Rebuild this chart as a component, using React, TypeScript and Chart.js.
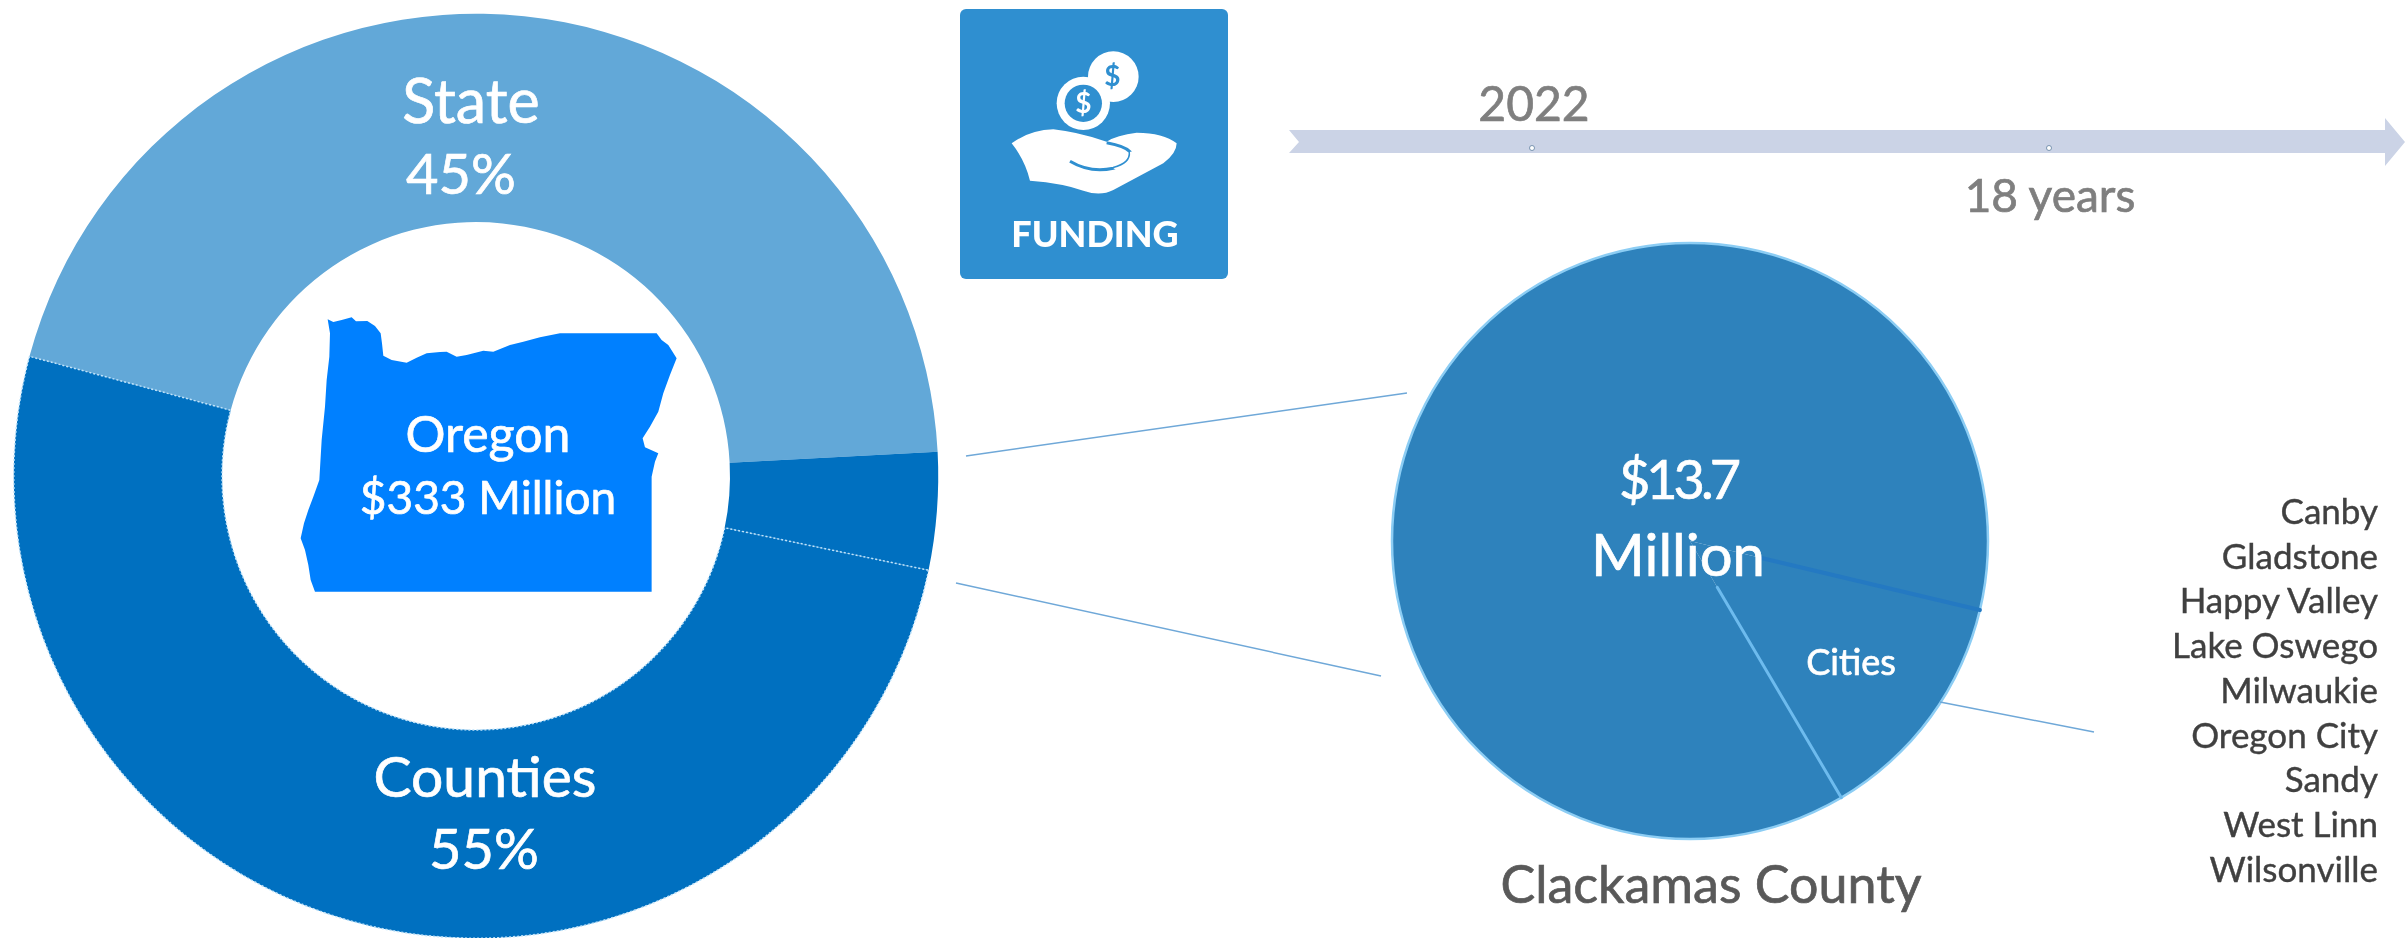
import React, { useEffect, useRef } from "react";
import { Chart, registerables } from "chart.js";

Chart.register(...registerables);

const oregonLabels = ["State", "Clackamas County", "Other Counties"];
const oregonShares = [45, 4.1, 50.9];
const oregonColors = ["#62A8D8", "#0070C0", "#0070C0"];

const countyLabels = ["Cities", "Clackamas County"];
const countyShares = [12.8, 87.2];

const cityNames = ["Canby", "Gladstone", "Happy Valley", "Lake Oswego", "Milwaukie", "Oregon City", "Sandy", "West Linn", "Wilsonville"];

const FONT = "Lato, 'Open Sans', sans-serif";

const oregonOutline = "143,88 160,96 185,90 215,82 228,94 262,93 285,108 302,130 306,160 310,197 335,210 380,218 410,203 440,190 480,186 500,185 530,200 560,195 610,182 640,185 690,165 730,155 780,142 840,130 1130,130 1145,150 1165,165 1190,205 1170,255 1150,310 1135,365 1110,410 1088,445 1095,472 1135,490 1125,515 1115,560 1115,905 105,905 92,870 85,825 75,780 62,745 72,700 85,660 100,620 118,570 125,450 135,350 140,270 148,200 150,130";

type TextSpec = { t: string; x: number; y: number; s: number; c: string; w?: number; ls?: number };
const centeredTexts: TextSpec[] = [
  { t: "State", x: 471, y: 100, s: 61, c: "#ffffff" },
  { t: "45%", x: 461, y: 173, s: 56, c: "#ffffff" },
  { t: "Counties", x: 485, y: 775, s: 57, c: "#ffffff" },
  { t: "55%", x: 484, y: 848, s: 56, c: "#ffffff" },
  { t: "Oregon", x: 488, y: 433, s: 50, c: "#ffffff" },
  { t: "$333 Million", x: 488, y: 497, s: 46, c: "#ffffff" },
  { t: "FUNDING", x: 1095, y: 233, s: 36, c: "#ffffff", w: 900 },
  { t: "2022", x: 1534, y: 103, s: 48, c: "#7f7f7f" },
  { t: "18 years", x: 2050, y: 195, s: 46, c: "#7f7f7f" },
  { t: "$13.7", x: 1678, y: 479, s: 54, c: "#ffffff", ls: -4 },
  { t: "Million", x: 1678, y: 554, s: 58, c: "#ffffff" },
  { t: "Cities", x: 1851, y: 661, s: 36, c: "#ffffff" },
  { t: "Clackamas County", x: 1711, y: 883, s: 52, c: "#595959" },
];

const edgePlugin = {
  id: "countyEdges",
  afterDatasetsDraw(chart: any) {
    const arcs = chart.getDatasetMeta(0).data;
    const { x, y, outerRadius, startAngle, endAngle } = arcs[0];
    const ctx = chart.ctx;
    ctx.save();
    ctx.lineCap = "round";
    ctx.strokeStyle = "#8CCDF4";
    ctx.lineWidth = 2.5;
    ctx.beginPath();
    ctx.arc(x, y, outerRadius, 0, Math.PI * 2);
    ctx.stroke();
    ctx.strokeStyle = "#6DBBEE";
    ctx.lineWidth = 3;
    ctx.beginPath();
    ctx.moveTo(x + Math.cos(endAngle) * outerRadius * 0.18, y + Math.sin(endAngle) * outerRadius * 0.18);
    ctx.lineTo(x + Math.cos(endAngle) * outerRadius, y + Math.sin(endAngle) * outerRadius);
    ctx.stroke();
    ctx.strokeStyle = "#2479C2";
    ctx.lineWidth = 4;
    ctx.beginPath();
    ctx.moveTo(x + Math.cos(startAngle) * outerRadius * 0.25, y + Math.sin(startAngle) * outerRadius * 0.25);
    ctx.lineTo(x + Math.cos(startAngle) * outerRadius, y + Math.sin(startAngle) * outerRadius);
    ctx.stroke();
    ctx.restore();
  },
};

export default function App() {
  const leftRef = useRef<HTMLCanvasElement>(null);
  const rightRef = useRef<HTMLCanvasElement>(null);

  useEffect(() => {
    const left = new Chart(leftRef.current!, {
      type: "doughnut",
      data: {
        labels: oregonLabels,
        datasets: [{
          data: oregonShares,
          backgroundColor: oregonColors,
          borderColor: ["#62A8D8", "#0070C0", "#BFE3FA"],
          borderWidth: [0, 0, 1.5],
          borderDash: [2, 2],
        } as any],
      },
      options: {
        animation: false,
        responsive: false,
        rotation: 285,
        cutout: 254,
        layout: { padding: 13 },
        plugins: { legend: { display: false }, tooltip: { enabled: false } },
      },
    });
    const right = new Chart(rightRef.current!, {
      type: "pie",
      data: {
        labels: countyLabels,
        datasets: [{ data: countyShares, backgroundColor: ["#2E82BC", "#2E82BC"], borderWidth: 0 }],
      },
      options: {
        animation: false,
        responsive: false,
        rotation: 103.4,
        layout: { padding: 2 },
        plugins: { legend: { display: false }, tooltip: { enabled: false } },
      },
      plugins: [edgePlugin],
    });
    return () => {
      left.destroy();
      right.destroy();
    };
  }, []);

  return (
    <div style={{ position: "fixed", left: 0, top: 0, width: 2405, height: 938, overflow: "hidden", background: "#ffffff", fontFamily: FONT }}>
      <canvas ref={leftRef} width={952} height={952} style={{ position: "absolute", left: 0, top: 0 }} />
      <canvas ref={rightRef} width={600} height={600} style={{ position: "absolute", left: 1390, top: 241 }} />
      <svg width={2405} height={938} style={{ position: "absolute", left: 0, top: 0 }}>
        <g transform="translate(280 290) scale(0.3333)">
          <polygon points={oregonOutline} fill="#0080FF" />
        </g>
        <g stroke="#6FA8D8" strokeWidth={1.5}>
          <line x1={966} y1={456} x2={1407} y2={393} />
          <line x1={956} y1={583} x2={1381} y2={676} />
          <line x1={1940} y1={702} x2={2094} y2={732} />
        </g>
        <rect x={960} y={9} width={268} height={270} rx={6} fill="#2F8FD0" />
        <g transform="translate(950 0) scale(0.3333)">
          <circle cx={490} cy={230} r={76} fill="#ffffff" />
          <circle cx={400} cy={310} r={80} fill="#ffffff" />
          <circle cx={400} cy={310} r={56} fill="#2F8FD0" />
          <text x={487} y={258} fontSize={84} fontWeight={700} textAnchor="middle" fill="#2F8FD0" fontFamily={FONT}>$</text>
          <text x={400} y={340} fontSize={84} fontWeight={700} textAnchor="middle" fill="#ffffff" fontFamily={FONT}>$</text>
          <path d="M185 430 Q240 390 310 388 Q380 395 470 425 Q500 405 560 398 Q640 398 680 430 Q680 460 640 490 L490 570 Q450 590 400 572 Q340 550 240 542 Q225 480 185 430 Z" fill="#ffffff" />
          <path d="M360 484 Q420 520 490 505 Q545 490 540 455 Q525 438 470 428" fill="none" stroke="#2F8FD0" strokeWidth={9} />
          <path d="M490 505 Q545 490 540 455 L600 460 L520 520 Z" fill="#ffffff" />
        </g>
        <polygon points="1289,130 2385,130 2385,118 2405,142 2385,166 2385,153 1289,153 1299,142" fill="#CBD3E6" />
        <circle cx={1532} cy={148} r={2.5} fill="#ffffff" stroke="#5F7F9F" strokeWidth={0.8} />
        <circle cx={2049} cy={148} r={2.5} fill="#ffffff" stroke="#5F7F9F" strokeWidth={0.8} />
      </svg>
      {centeredTexts.map((d) => (
        <div key={d.t} style={{ position: "absolute", left: d.x - 400, top: d.y - 50, width: 800, height: 100, lineHeight: "100px", textAlign: "center", fontSize: d.s, color: d.c, fontWeight: d.w ?? 400, letterSpacing: d.ls ?? 0, whiteSpace: "nowrap", WebkitTextStroke: d.w ? "0" : "0.7px " + d.c }}>
          {d.t}
        </div>
      ))}
      {cityNames.map((name, i) => (
        <div key={name} style={{ position: "absolute", right: 2405 - 2378, top: 510 + i * 44.7 - 25, height: 50, lineHeight: "50px", fontSize: 35, color: "#404040", whiteSpace: "nowrap", WebkitTextStroke: "0.4px #404040" }}>
          {name}
        </div>
      ))}
    </div>
  );
}
